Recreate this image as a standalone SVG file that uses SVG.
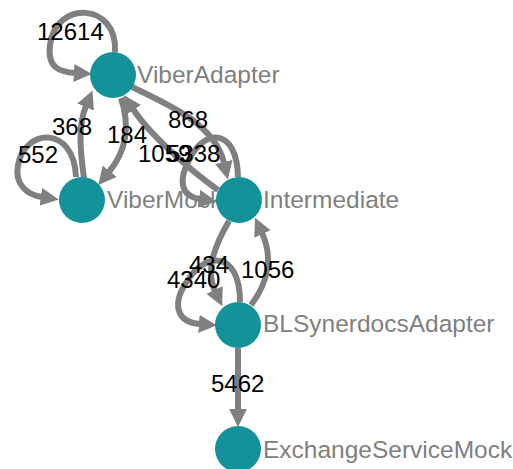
<svg xmlns="http://www.w3.org/2000/svg" width="513" height="469" viewBox="0 0 513 469">
<defs>
<marker id="arr" markerUnits="userSpaceOnUse" markerWidth="18" markerHeight="18" viewBox="0 -8 16 16" refX="1" refY="0" orient="auto">
<path d="M0,-8 L16,0 L0,8 z" fill="#808080"/>
</marker>
<style>
.e{fill:none;stroke:#808080;stroke-width:6;marker-end:url(#arr)}
.n{fill:#139399}
.nl{font-family:"Liberation Sans",Arial,sans-serif;font-size:24.5px;fill:#808080}
.el{font-family:"Liberation Sans",Arial,sans-serif;font-size:24px;fill:#000}
</style>
</defs>
<rect width="513" height="469" fill="#fff"/>
<g id="edges">
<path class="e" d="M115 52 C118 2,55 0,50 45 C47 68,60 72,75 73"/>
<path class="e" d="M76 177 C74 125,25 128,18 165 C14 185,28 195,42 197"/>
<path class="e" d="M84 178 C80 150,78 125,86 106"/>
<path class="e" d="M121 98 C130 125,127 150,109 172"/>
<path class="e" d="M132 87 C170 105,215 125,224 163"/>
<path class="e" d="M218 190 C190 170,150 135,133 109"/>
<path class="e" d="M238 177 C237 128,205 128,190 158 C178 180,180 196,200 199"/>
<path class="e" d="M229 221 C215 245,205 270,215 291"/>
<path class="e" d="M251 305 C270 280,272 255,262 233"/>
<path class="e" d="M240 302 C240 250,205 252,188 280 C172 302,175 322,200 324"/>
<path class="e" d="M238 348 L238 410"/>
</g>
<g id="edge-labels">
<text class="el" x="37" y="40">12614</text>
<text class="el" x="52" y="135">368</text>
<text class="el" x="18" y="163">552</text>
<text class="el" x="107" y="143">184</text>
<text class="el" x="168" y="128">868</text>
<text class="el" x="138" y="162">1059</text>
<text class="el" x="167" y="162">5338</text>
<text class="el" x="189" y="273">434</text>
<text class="el" x="167" y="288">4340</text>
<text class="el" x="241" y="278">1056</text>
<text class="el" x="211" y="392">5462</text>
</g>
<g id="ViberAdapter"><circle class="n" cx="113" cy="75" r="23"/><text class="nl" x="137" y="83">ViberAdapter</text></g>
<g id="ViberMock"><circle class="n" cx="82" cy="200" r="23"/><text class="nl" x="107" y="208">ViberMock</text></g>
<g id="Intermediate"><circle class="n" cx="239" cy="200" r="23"/><text class="nl" x="263" y="208">Intermediate</text></g>
<g id="BLSynerdocsAdapter"><circle class="n" cx="238" cy="325" r="23"/><text class="nl" x="263" y="332">BLSynerdocsAdapter</text></g>
<g id="ExchangeServiceMock"><circle class="n" cx="238" cy="449" r="23"/><text class="nl" x="263" y="458">ExchangeServiceMock</text></g>
</svg>
